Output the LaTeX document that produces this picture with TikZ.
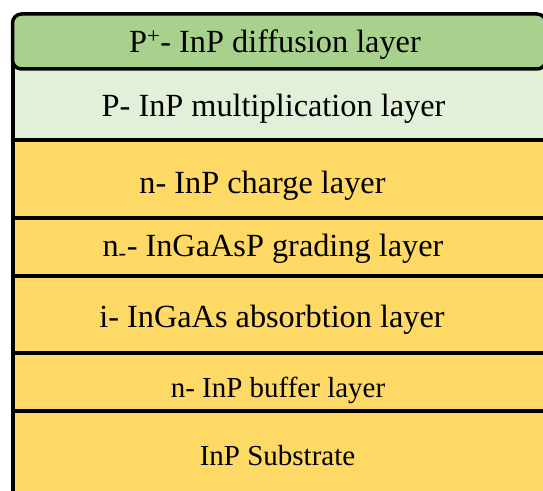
\documentclass[tikz,border=0pt]{standalone}
\usepackage{fontspec}
\setmainfont{Liberation Serif}
\newfontfamily\layerfont{Liberation Serif}
\definecolor{diffgreen}{HTML}{A9D18E}
\definecolor{multgreen}{HTML}{E2EFD9}
\definecolor{layergold}{HTML}{FFD966}
\begin{document}
\begin{tikzpicture}[x=1pt,y=1pt,
  border/.style={draw=black,line width=3.5pt},
  layertext/.style={anchor=base,inner sep=0pt,text=black,font=\layerfont\fontsize{32.3}{37}\selectfont},
  smalltext/.style={layertext,font=\layerfont\fontsize{29}{34}\selectfont}]
\useasboundingbox (0,0) rectangle (543,490);
\clip (0,0) rectangle (543,490);
% layer fills (the stack runs off the right and bottom edges)
\fill[layergold] (12.5,-10) rectangle (560,350);
\fill[multgreen] (12.5,350) rectangle (560,421);
% interfaces between the layers
\foreach \yy in {350,272,214,137,79}
  \draw[border] (12.5,\yy) -- (560,\yy);
% left side wall of the stack
\draw[draw=black,line width=4pt] (12.5,-10) -- (12.5,428);
% top contact layer
\draw[border,fill=diffgreen,rounded corners=9pt] (12.5,421) rectangle (546,476);
% layer names
\node[layertext] (diff) at (275,437) {P\textsuperscript{+}- InP diffusion layer};
\node[layertext] (mult) at (273.5,373) {P- InP multiplication layer};
\node[layertext] (charge) at (262.5,296) {n- InP charge layer};
\node[layertext] (grad) at (273,233) {n\textsubscript{-}- InGaAsP grading layer};
\node[layertext] (abs) at (272,162) {i- InGaAs absorbtion layer};
\node[smalltext] (buf) at (278,93) {n- InP buffer layer};
\node[smalltext] (sub) at (277.5,25) {InP Substrate};
\end{tikzpicture}
\end{document}
